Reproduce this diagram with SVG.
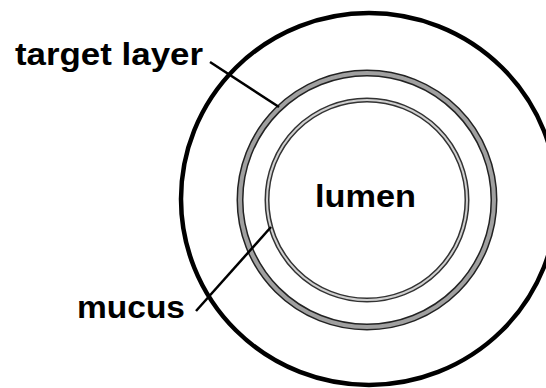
<svg xmlns="http://www.w3.org/2000/svg" width="546" height="388" viewBox="0 0 546 388">
<style>
.lbl{font-family:"Liberation Sans",Arial,sans-serif;font-weight:bold;fill:#000;}
.lead{stroke:#000;stroke-width:2.5;fill:none;}
</style>
<rect width="546" height="388" fill="#fff"/>
<g id="outer-wall">
<ellipse cx="369" cy="199" rx="188" ry="186" fill="none" stroke="#000" stroke-width="4.5"/>
</g>
<g id="target-layer-ring">
<circle cx="367" cy="200" r="127" fill="none" stroke="#222" stroke-width="7"/>
<circle cx="367" cy="200" r="127" fill="none" stroke="#a0a0a0" stroke-width="4"/>
</g>
<g id="mucus-ring">
<circle cx="367" cy="200" r="100" fill="none" stroke="#333" stroke-width="5"/>
<circle cx="367" cy="200" r="100" fill="none" stroke="#d0d0d0" stroke-width="2"/>
</g>
<g id="lumen">
<text class="lbl" x="315" y="207" font-size="31" textLength="101" lengthAdjust="spacingAndGlyphs">lumen</text>
</g>
<g id="target-layer-label">
<text class="lbl" x="15" y="65" font-size="31" textLength="188" lengthAdjust="spacingAndGlyphs">target layer</text>
</g>
<g id="mucus-label">
<text class="lbl" x="77" y="318" font-size="31" textLength="108" lengthAdjust="spacingAndGlyphs">mucus</text>
</g>
<g id="connectors">
<line class="lead" x1="210" y1="62" x2="279" y2="107"/>
<line class="lead" x1="196" y1="311" x2="271" y2="227"/>
</g>
</svg>
